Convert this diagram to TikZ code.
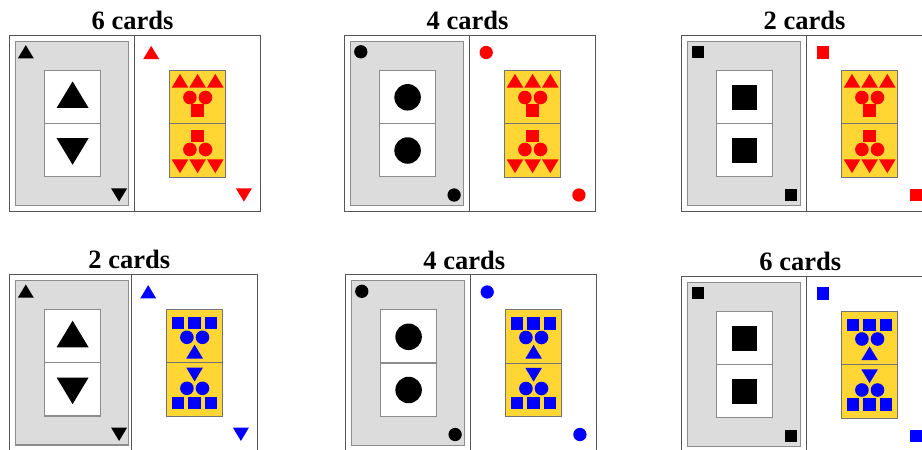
\documentclass[tikz,border=0pt]{standalone}
\usepackage{fontspec}
\setmainfont{Liberation Serif}

\definecolor{cardgrey}{HTML}{DCDCDC}
\definecolor{pipyellow}{HTML}{FFD633}
\definecolor{frame}{HTML}{555555}

% symbols, centred at (x,y): #1 x, #2 y, #3 size, #4 colour
\newcommand\cardsymu[4]{\fill[#4] (#1-#3/2,#2+0.415*#3) -- (#1+#3/2,#2+0.415*#3) -- (#1,#2-0.415*#3) -- cycle;}
\newcommand\cardsymd[4]{\fill[#4] (#1-#3/2,#2-0.415*#3) -- (#1+#3/2,#2-0.415*#3) -- (#1,#2+0.415*#3) -- cycle;}
\newcommand\cardsymc[4]{\fill[#4] (#1,#2) circle[radius=#3/2];}
\newcommand\cardsyms[4]{\fill[#4] (#1-#3/2,#2-#3/2) rectangle (#1+#3/2,#2+#3/2);}
\newcommand\cardsym[5]{\csname cardsym#1\endcsname{#2}{#3}{#4}{#5}}

% pips of the yellow domino, from its top left corner
\newcommand\pipsred[2]{%
  \foreach \k in {10.7,28.3,46} {\cardsymu{#1+\k}{#2+10.7}{16.5}{red} \cardsymd{#1+\k}{#2+96.3}{16.5}{red}}
  \foreach \k in {20.6,36.2} {\cardsymc{#1+\k}{#2+27.5}{13.6}{red} \cardsymc{#1+\k}{#2+79.5}{13.6}{red}}
  \cardsyms{#1+28.3}{#2+40.8}{12.8}{red} \cardsyms{#1+28.3}{#2+66}{12.8}{red}}
\newcommand\pipsblue[2]{%
  \foreach \k in {12,28.2,44.5} {\cardsyms{#1+\k}{#2+14}{12.3}{blue} \cardsyms{#1+\k}{#2+93.5}{12.3}{blue}}
  \foreach \k in {20.6,36.2} {\cardsymc{#1+\k}{#2+28}{13.6}{blue} \cardsymc{#1+\k}{#2+79}{13.6}{blue}}
  \cardsymu{#1+28.3}{#2+42.3}{16.7}{blue} \cardsymd{#1+28.3}{#2+65.2}{16.7}{blue}}

\begin{document}
\begin{tikzpicture}[x=1pt, y=-1pt,
  title/.style={font=\bfseries\fontsize{26.5}{30}\selectfont, inner sep=0pt, anchor=base},
  cardline/.style={draw=frame, line width=1pt},
  facebox/.style={draw=black!45, line width=1.2pt},
  dominobox/.style={draw=black!55, line width=1pt},
]
\useasboundingbox (0,0) rectangle (922,450);
\clip (0,0) rectangle (922,450);

\foreach \gx/\gy/\ka/\kb/\sz/\Sz/\ya/\yb/\pat/\txt/\dx/\tx [count=\i] in {
    9.3/35/u/d/16/32/59.7/116.5/red/6 cards/0/123.2,
    344.3/35/c/c/13.3/26.5/62.3/115.5/red/4 cards/0/123.2,
    681.3/35/s/s/12.3/25.5/62.3/115.5/red/2 cards/0/123.2,
    9.3/274.3/u/d/16/32/59.7/116.5/blue/2 cards/-3/120,
    345.3/274.5/c/c/13.3/26.5/62.3/115.5/blue/4 cards/0/119,
    681.3/276/s/s/12.3/25.5/62.3/115.5/blue/6 cards/0/119} {
  % left card: grey face with the white domino
  \draw[cardline, fill=white] (\gx,\gy) rectangle ++(125.4,176.7);
  \draw[facebox, fill=cardgrey] (\gx+6,\gy+6.3) rectangle (\gx+119.4,\gy+170.7);
  \draw[facebox, fill=white] (\gx+35,\gy+35.3) rectangle (\gx+91,\gy+141.7);
  \draw[facebox] (\gx+35,\gy+88.5) -- (\gx+91,\gy+88.5);
  \cardsym{\ka}{\gx+63.3}{\gy+\ya}{\Sz}{black}
  \cardsym{\kb}{\gx+63.3}{\gy+\yb}{\Sz}{black}
  \cardsym{\ka}{\gx+16.5}{\gy+16.8}{\sz}{black}
  \cardsym{\kb}{\gx+109.8}{\gy+160}{\sz}{black}
  % right card: coloured corners and the yellow domino
  \pgfmathsetmacro\rx{\gx+125.4+\dx}
  \draw[cardline, fill=white] (\rx,\gy) rectangle ++(126,176.7);
  \cardsym{\ka}{\rx+16.5}{\gy+17.5}{\sz}{\pat}
  \cardsym{\kb}{\rx+109.2}{\gy+160}{\sz}{\pat}
  \draw[dominobox, fill=pipyellow] (\rx+34.6,\gy+35) rectangle ++(56.5,107);
  \draw[dominobox] (\rx+34.6,\gy+88.5) -- ++(56.5,0);
  \csname pips\pat\endcsname{\rx+34.6}{\gy+35}
  % heading
  \node[title] (title\i) at (\gx+\tx,\gy-5.5) {\txt};
}
\end{tikzpicture}
\end{document}
